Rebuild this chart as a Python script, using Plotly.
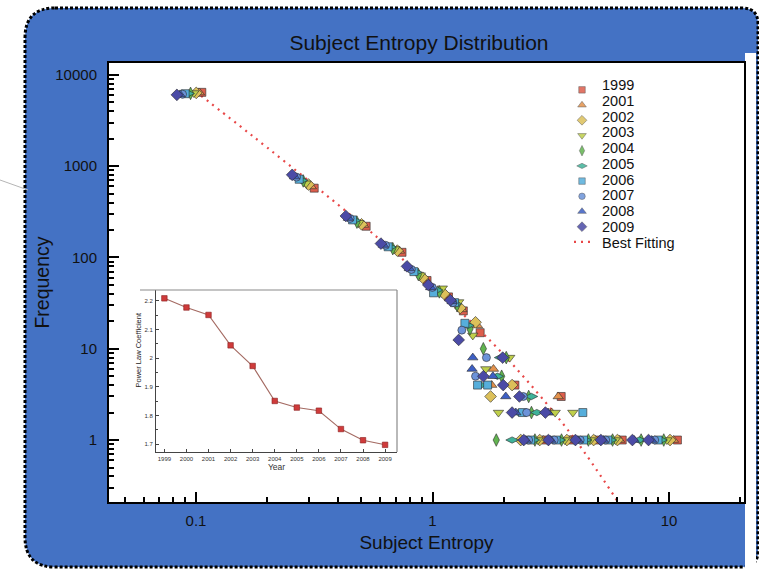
import plotly.graph_objects as go

# ---------------- data ----------------
series_names = ["1999", "2001", "2002", "2003", "2004", "2005", "2006", "2007", "2008", "2009"]

x_1999 = [0.1058, 0.316, 0.524, 0.743, 0.948, 1.168, 1.35, 1.59, 2.23, 3.50, 3.01, 3.90, 5.02, 6.34, 10.85]
y_1999 = [6450, 575, 220, 114, 56, 37, 26, 15, 4, 3, 1, 1, 1, 1, 1]

x_2001 = [0.1033, 0.307, 0.511, 0.725, 0.927, 1.14, 1.33, 1.55, 1.81, 1.78, 3.40, 3.19, 2.94, 3.82, 4.88, 6.18, 10.45]
y_2001 = [6420, 600, 227, 118, 59, 39, 27, 18, 6, 4, 3, 2, 1, 1, 1, 1, 1]

x_2002 = [0.1002, 0.299, 0.501, 0.710, 0.909, 1.118, 1.31, 1.52, 2.17, 1.76, 2.36, 2.84, 3.70, 4.80, 6.05, 10.1]
y_2002 = [6360, 630, 231, 119, 60, 40, 28, 19.5, 4, 3, 1, 1, 1, 1, 1, 1]

x_2003 = [0.0979, 0.292, 0.488, 0.692, 0.888, 1.10, 1.29, 1.48, 2.12, 1.68, 1.90, 3.30, 3.92, 2.79, 3.62, 4.66, 5.93, 9.80]
y_2003 = [6340, 650, 240, 124, 64, 46, 32.5, 14, 8, 6, 2, 2, 2, 1, 1, 1, 1, 1]

x_2004 = [0.0948, 0.284, 0.479, 0.679, 0.871, 1.068, 1.27, 1.44, 1.64, 2.05, 1.96, 2.55, 2.62, 1.86, 2.71, 3.51, 4.56, 5.77, 7.62, 9.50]
y_2004 = [6280, 690, 244, 125, 65, 42, 30, 16.5, 10, 8, 5, 3, 2, 1, 1, 1, 1, 1, 1, 1]

x_2005 = [0.0926, 0.279, 0.467, 0.662, 0.850, 1.041, 1.25, 1.41, 1.94, 1.88, 1.60, 2.62, 2.31, 2.76, 2.17, 2.67, 3.44, 4.43, 5.66, 7.48, 9.25]
y_2005 = [6260, 700, 255, 130, 69, 44, 31, 18, 8, 5, 4, 3, 2, 2, 1, 1, 1, 1, 1, 1, 1]

x_2006 = [0.0899, 0.273, 0.459, 0.649, 0.834, 1.01, 1.24, 1.37, 1.55, 1.71, 2.40, 4.32, 2.60, 3.33, 4.35, 5.51, 8.98]
y_2006 = [6230, 720, 258, 131, 70, 41, 32, 19, 4, 4, 2, 2, 1, 1, 1, 1, 1]

x_2007 = [0.0877, 0.266, 0.448, 0.633, 0.814, 0.998, 1.22, 1.33, 1.69, 1.52, 2.42, 2.50, 2.55, 3.27, 4.21, 5.40, 8.70]
y_2007 = [6150, 760, 268, 136, 74, 47, 32, 16, 8, 5, 3, 2, 1, 1, 1, 1, 1]

x_2008 = [0.0855, 0.261, 0.441, 0.620, 0.798, 0.982, 1.21, 1.48, 1.47, 1.80, 2.04, 2.25, 3.08, 2.48, 3.16, 4.12, 5.28, 7.12, 8.45]
y_2008 = [6120, 770, 270, 137, 76, 47, 33, 8, 6, 5, 3, 2, 2, 1, 1, 1, 1, 1, 1]

x_2009 = [0.083, 0.255, 0.430, 0.605, 0.780, 0.960, 1.19, 1.29, 1.98, 1.64, 1.99, 2.33, 2.17, 3.00, 2.43, 3.09, 4.02, 5.15, 7.00, 8.19]
y_2009 = [6050, 805, 285, 142, 80, 50, 34, 12.5, 8, 5, 4, 3, 2, 2, 1, 1, 1, 1, 1, 1]

fit_label = "Best Fitting"
fit_x = [0.105, 0.15, 0.2, 0.3, 0.5, 0.7, 1.0, 1.5, 2.0, 3.0, 4.0, 5.0, 6.0, 6.6]
fit_y = [5920, 2880, 1600, 690, 233, 111, 49, 18.2, 8.6, 2.6, 1.02, 0.45, 0.22, 0.14]

inset_years = [1999, 2000, 2001, 2002, 2003, 2004, 2005, 2006, 2007, 2008, 2009]
inset_coef = [2.209, 2.177, 2.151, 2.045, 1.973, 1.851, 1.828, 1.817, 1.753, 1.714, 1.698]

x_ticks = [0.1, 1, 10]
x_ticktext = ["0.1", "1", "10"]
y_ticks = [1, 10, 100, 1000, 10000]
y_ticktext = ["1", "10", "100", "1000", "10000"]
inset_yticks = [1.7, 1.8, 1.9, 2.0, 2.1, 2.2]
inset_yticktext = ["1.7", "1.8", "1.9", "2", "2.1", "2.2"]

series_x = [x_1999, x_2001, x_2002, x_2003, x_2004, x_2005, x_2006, x_2007, x_2008, x_2009]
series_y = [y_1999, y_2001, y_2002, y_2003, y_2004, y_2005, y_2006, y_2007, y_2008, y_2009]

# ---------------- styles ----------------
colors = ["#dd5e4c", "#e3924c", "#dcc05a", "#bfcf4a", "#62b450",
          "#3fb39a", "#56aedb", "#6c93d9", "#3d5fc4", "#4b4ba6"]
symbols = ["square", "triangle-up", "diamond", "triangle-down", "diamond-tall",
           "diamond-wide", "square", "circle", "triangle-up", "diamond"]
sizes = [8, 9, 9, 9, 9, 9, 8, 8, 9, 9]
FIT_COLOR = "#e84848"
FONT = "Liberation Sans, Arial, Helvetica, sans-serif"

W, H = 759, 569
L, R, T, B = 109, 744, 63, 502


def px(x):
    return (x - L) / (R - L)


def py(y):
    return (B - y) / (B - T)


def minor_vals(decades):
    out = []
    for d in decades:
        for m in range(2, 10):
            out.append(round(m * d, 6))
    return out


fig = go.Figure()

# best fit line (under markers)
fig.add_trace(go.Scatter(x=fit_x, y=fit_y, mode="lines", line=dict(color=FIT_COLOR, width=2.2, dash="2px,5px", shape="spline"),
                         showlegend=False, hoverinfo="skip"))

# scatter series: 1999 first, 2009 last
for i, name in enumerate(series_names):
    fig.add_trace(go.Scatter(
        x=series_x[i], y=series_y[i], mode="markers", name=name, showlegend=False,
        marker=dict(symbol=symbols[i], color=colors[i], size=sizes[i],
                    line=dict(color="#2a2a2a", width=0.6))))

# inset
fig.add_trace(go.Scatter(x=inset_years, y=inset_coef, mode="lines+markers", xaxis="x2", yaxis="y2",
                         showlegend=False,
                         line=dict(color="#a46a62", width=1.1),
                         marker=dict(symbol="square", size=5.5, color="#cf3b3b", line=dict(color="#8a2020", width=0.6))))

# custom legend (symbols on a hidden helper axis; labels as annotations)
legend_labels = series_names + [fit_label]
for i, name in enumerate(series_names):
    fig.add_trace(go.Scatter(x=[0], y=[name], mode="markers", xaxis="x3", yaxis="y3", showlegend=False,
                             marker=dict(symbol=symbols[i], color=colors[i], size=sizes[i] - 1.5,
                                         line=dict(color="#444", width=0.5), opacity=0.85), hoverinfo="skip"))
fig.add_trace(go.Scatter(x=[-0.4, 0.45], y=[fit_label, fit_label], mode="lines", xaxis="x3", yaxis="y3", showlegend=False,
                         line=dict(color=FIT_COLOR, width=2.2, dash="2px,5px"), hoverinfo="skip"))

annotations = []
row0, rstep = 85, 15.77
for k, lab in enumerate(legend_labels):
    annotations.append(dict(text=lab, x=px(600), y=py(row0 + rstep * k), xref="paper", yref="paper",
                            xanchor="left", yanchor="middle", showarrow=False,
                            font=dict(family=FONT, size=14.5, color="#111")))
annotations.append(dict(text="Power Law Coefficient", x=px(137.5), y=py(350), xref="paper", yref="paper",
                        textangle=-90, xanchor="center", yanchor="middle", showarrow=False,
                        font=dict(family=FONT, size=7.5, color="#222")))

# background shapes
lft, top, rgt, bot, rl, rr = 25, 8, 758, 567, 30, 16
path = (f"M {px(lft+rl)},{py(top)} L {px(rgt-rr)},{py(top)} Q {px(rgt)},{py(top)} {px(rgt)},{py(top+rr)} "
        f"L {px(rgt)},{py(bot-rr)} Q {px(rgt)},{py(bot)} {px(rgt-rr)},{py(bot)} "
        f"L {px(lft+rl)},{py(bot)} Q {px(lft)},{py(bot)} {px(lft)},{py(bot-rl)} "
        f"L {px(lft)},{py(top+rl)} Q {px(lft)},{py(top)} {px(lft+rl)},{py(top)} Z")
shapes = [
    dict(type="path", path=path, xref="paper", yref="paper", layer="below",
         fillcolor="#4472C4", line=dict(color="black", width=3, dash="3px,2px")),
    dict(type="rect", x0=px(L), x1=px(R), y0=py(B), y1=py(T), xref="paper", yref="paper", layer="below",
         fillcolor="white", line=dict(width=0)),
    dict(type="rect", x0=px(745), x1=px(756), y0=py(570), y1=py(53), xref="paper", yref="paper", layer="below",
         fillcolor="white", line=dict(width=0)),
    dict(type="line", x0=px(0), x1=px(28), y0=py(180), y1=py(190), xref="paper", yref="paper",
         line=dict(color="#b5b5b5", width=1)),
    dict(type="line", x0=px(140), x1=px(397), y0=py(290), y1=py(290), xref="paper", yref="paper",
         line=dict(color="#8a8a8a", width=1.2)),
    dict(type="line", x0=px(397), x1=px(397), y0=py(290), y1=py(452), xref="paper", yref="paper",
         line=dict(color="#8a8a8a", width=1.2)),
]

axis_common = dict(showline=True, mirror=True, linecolor="black", linewidth=2, ticks="inside",
                   tickcolor="black", tickwidth=2, showgrid=False, zeroline=False,
                   tickfont=dict(family=FONT, size=15, color="#111"))

fig.update_layout(
    width=W, height=H, margin=dict(l=L, r=W - R, t=T, b=H - B),
    paper_bgcolor="white", plot_bgcolor="white",
    font=dict(family=FONT, color="#111"),
    title=dict(text="Subject Entropy Distribution", x=419 / W, y=1 - 43 / H, xref="container", yref="container",
               xanchor="center", yanchor="middle", font=dict(family=FONT, size=21, color="#111")),
    xaxis=dict(type="log", range=[-1.368, 1.317], tickvals=x_ticks, ticktext=x_ticktext, ticklen=10,
               ticklabelstandoff=4,
               minor=dict(ticks="inside", ticklen=5, tickwidth=1.5, tickcolor="black",
                          tickvals=minor_vals([0.01, 0.1, 1, 10]), showgrid=False),
               title=dict(text="Subject Entropy", font=dict(family=FONT, size=19, color="#111"), standoff=8),
               **axis_common),
    yaxis=dict(type="log", range=[-0.679, 4.131], tickvals=y_ticks, ticktext=y_ticktext, ticklen=10,
               ticklabelstandoff=7,
               minor=dict(ticks="inside", ticklen=5, tickwidth=1.5, tickcolor="black",
                          tickvals=minor_vals([0.1, 1, 10, 100, 1000]), showgrid=False),
               title=dict(text="Frequency", font=dict(family=FONT, size=19.5, color="#111"), standoff=0),
               **axis_common),
    xaxis2=dict(domain=[px(156), px(397)], anchor="y2", range=[1998.62, 2009.54], tickvals=inset_years,
                ticks="inside", ticklen=3, tickwidth=1, tickcolor="#444", showline=True, linecolor="#444",
                linewidth=1, showgrid=False, zeroline=False, ticklabelstandoff=1,
                tickfont=dict(family=FONT, size=6, color="#333"),
                title=dict(text="Year", font=dict(family=FONT, size=8.5, color="#333"), standoff=0)),
    yaxis2=dict(domain=[py(452), py(290)], anchor="x2", range=[1.673, 2.238], tickvals=inset_yticks,
                ticktext=inset_yticktext, ticks="inside", ticklen=3, tickwidth=1, tickcolor="#444",
                showline=True, linecolor="#444", linewidth=1, showgrid=False, zeroline=False,
                minor=dict(ticks="inside", ticklen=2, tickwidth=0.8, tickcolor="#444", dtick=0.05, showgrid=False),
                tickfont=dict(family=FONT, size=6, color="#333"), ticklabelstandoff=1),
    xaxis3=dict(domain=[px(562), px(602)], anchor="y3", range=[-1, 1], visible=False, fixedrange=True),
    yaxis3=dict(domain=[py(row0 + rstep * 10 + rstep / 2), py(row0 - rstep / 2)], anchor="x3",
                type="category", categoryorder="array", categoryarray=legend_labels,
                autorange="reversed", visible=False, fixedrange=True),
    shapes=shapes,
    annotations=annotations,
)

fig.write_html("out.html")
